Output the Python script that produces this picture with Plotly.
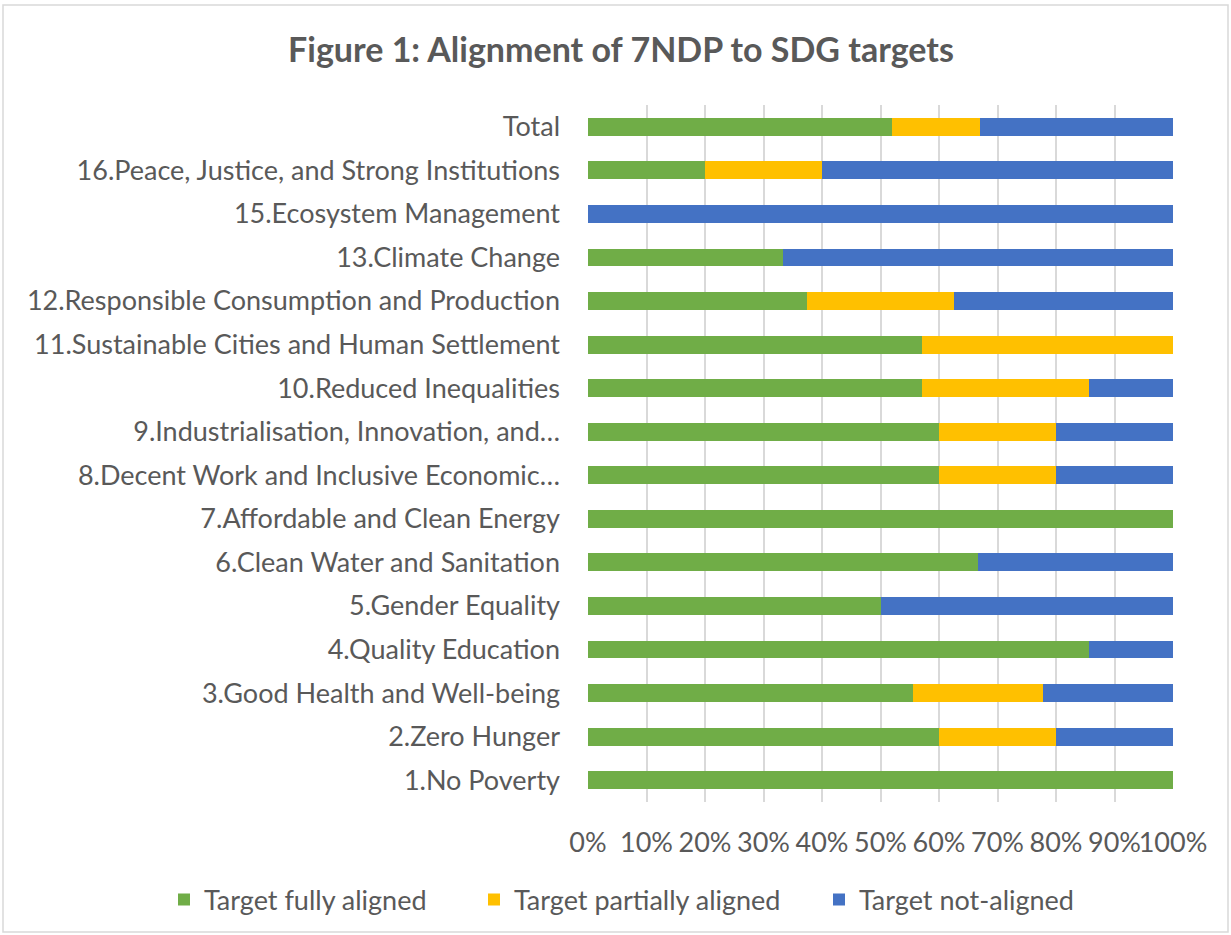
import plotly.graph_objects as go

categories = [
    "1.No Poverty",
    "2.Zero Hunger",
    "3.Good Health and Well-being",
    "4.Quality Education",
    "5.Gender Equality",
    "6.Clean Water and Sanitation",
    "7.Affordable and Clean Energy",
    "8.Decent Work and Inclusive Economic…",
    "9.Industrialisation, Innovation, and…",
    "10.Reduced Inequalities",
    "11.Sustainable Cities and Human Settlement",
    "12.Responsible Consumption and Production",
    "13.Climate Change",
    "15.Ecosystem Management",
    "16.Peace, Justice, and Strong Institutions",
    "Total",
]
fully_aligned = [100, 60, 55.6, 85.7, 50, 66.7, 100, 60, 60, 57.1, 57.1, 37.5, 33.3, 0, 20, 52]
partially_aligned = [0, 20, 22.2, 0, 0, 0, 0, 20, 20, 28.6, 42.9, 25, 0, 0, 20, 15]
not_aligned = [0, 20, 22.2, 14.3, 50, 33.3, 0, 20, 20, 14.3, 0, 37.5, 66.7, 100, 60, 33]

series_names = ["Target fully aligned", "Target partially aligned", "Target not-aligned"]
series_colors = ["#70AD47", "#FFC000", "#4472C4"]

x_ticks = [i / 10 for i in range(11)]
x_tick_labels = [f"{i * 10}%" for i in range(11)]

FONT = "Lato"
GRAY = "#595959"
W, H = 1231, 935
L, R, T, B = 588, 1173, 105, 802  # plot area edges in page pixels

legend_ids = ["legend", "legend2", "legend3"]
legend_left_px = [178, 488, 833]  # left edge of each legend swatch

fig = go.Figure()
for name, vals, col, lid in zip(series_names, [fully_aligned, partially_aligned, not_aligned],
                                series_colors, legend_ids):
    fig.add_trace(go.Bar(
        y=categories,
        x=[v / 100 for v in vals],
        name=name,
        orientation="h",
        marker=dict(color=col, line=dict(width=0)),
        legend=lid,
    ))

legend_style = dict(
    orientation="h",
    xref="container", yref="container",
    xanchor="left", yanchor="middle",
    y=1 - 900 / H,
    font=dict(family=FONT, size=27, color=GRAY),
    itemwidth=30,
    borderwidth=0,
    bgcolor="rgba(0,0,0,0)",
)
legend_layout = {}
for lid, px in zip(legend_ids, legend_left_px):
    d = dict(legend_style)
    d["x"] = (px - 14) / W
    legend_layout[lid] = d

fig.update_layout(
    barmode="stack",
    barnorm="fraction",
    width=W,
    height=H,
    paper_bgcolor="white",
    plot_bgcolor="white",
    margin=dict(l=L, r=W - R, t=T, b=H - B, pad=0, autoexpand=False),
    bargap=0.59,
    font=dict(family=FONT, color=GRAY, size=27),
    title=dict(
        text="<b>Figure 1: Alignment of 7NDP to SDG targets</b>",
        x=621 / W, xref="container", xanchor="center",
        y=1 - 50 / H, yref="container", yanchor="middle",
        font=dict(family=FONT, size=34, color=GRAY),
    ),
    showlegend=True,
    **legend_layout,
)
fig.update_xaxes(
    range=[0, 1],
    tickvals=x_ticks,
    ticktext=x_tick_labels,
    tickangle=0,
    automargin=False,
    showgrid=True,
    gridcolor="#D9D9D9",
    gridwidth=1.5,
    zeroline=False,
    showline=False,
    ticks="",
    ticklabelstandoff=22,
    tickfont=dict(family=FONT, size=27, color=GRAY),
    fixedrange=True,
)
fig.update_yaxes(
    categoryorder="array",
    categoryarray=categories,
    automargin=False,
    showgrid=False,
    zeroline=False,
    showline=False,
    ticks="",
    ticklabelstandoff=27,
    tickfont=dict(family=FONT, size=27, color=GRAY),
    fixedrange=True,
)
fig.add_shape(
    type="rect", xref="paper", yref="paper",
    x0=(3 - L) / (R - L), x1=(1228 - L) / (R - L),
    y0=(B - 932) / (B - T), y1=(B - 5) / (B - T),
    line=dict(color="#D9D9D9", width=1.5),
    fillcolor="rgba(0,0,0,0)",
    layer="below",
)

fig.write_html(
    "out.html",
    config={"displayModeBar": False},
    post_script="document.body.style.margin='0px';document.body.style.padding='0px';",
)
